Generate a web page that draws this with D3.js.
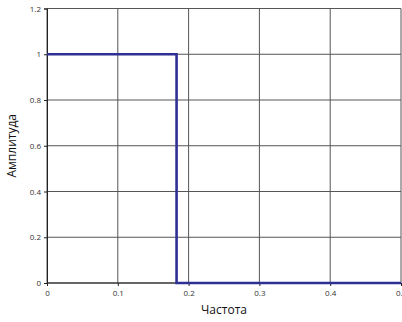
<!DOCTYPE html>
<html><head><meta charset="utf-8">
<script src="https://cdn.jsdelivr.net/npm/d3@7"></script>
<style>body{margin:0;background:#fff}svg{display:block}</style>
</head><body>
<script>
const xTicks = [0, 0.1, 0.2, 0.3, 0.4, 0.5];
const yTicks = [0, 0.2, 0.4, 0.6, 0.8, 1, 1.2];
const xTickLabels = ["0", "0.1", "0.2", "0.3", "0.4", "0.5"];
const yTickLabels = ["0", "0.2", "0.4", "0.6", "0.8", "1", "1.2"];
const freq = [0, 0.183, 0.183, 0.5];
const amp = [1, 1, 0, 0];
const xTitle = "Частота";
const yTitle = "Амплитуда";

const W = 402, H = 322;
const svg = d3.select("body").append("svg").attr("width", W).attr("height", H);
const x = d3.scaleLinear().domain([0, 0.5]).range([47, 401]);
const y = d3.scaleLinear().domain([0, 1.2]).range([283, 8.5]);

const g = svg.append("g");
// grid
g.selectAll(".vg").data(xTicks).join("line")
  .attr("x1", d => x(d)).attr("x2", d => x(d)).attr("y1", y(0)).attr("y2", y(1.2))
  .attr("stroke", "#555").attr("stroke-width", 1);
g.selectAll(".hg").data(yTicks).join("line")
  .attr("y1", d => y(d)).attr("y2", d => y(d)).attr("x1", x(0)).attr("x2", x(0.5))
  .attr("stroke", "#555").attr("stroke-width", 1);

// axes
const xa = svg.append("g").attr("transform", `translate(0,${y(0)})`)
  .call(d3.axisBottom(x).tickValues(xTicks).tickFormat((d,i) => xTickLabels[i]).tickSize(3).tickPadding(4));
const ya = svg.append("g").attr("transform", `translate(${x(0)},0)`)
  .call(d3.axisLeft(y).tickValues(yTicks).tickFormat((d,i) => yTickLabels[i]).tickSize(3).tickPadding(3));
[xa, ya].forEach(a => {
  a.select(".domain").attr("stroke", "#222");
  a.selectAll(".tick line").attr("stroke", "#222");
  a.selectAll("text").attr("fill", "#333").style("font-family", "Open Sans, sans-serif").style("font-size", "8px");
});
xa.select(".domain").remove();
svg.append("line").attr("x1", x(0)).attr("x2", x(0.5)).attr("y1", y(0)).attr("y2", y(0)).attr("stroke", "#222");

// step line
const line = d3.line().x(d => x(d[0])).y(d => y(d[1]));
svg.append("path").datum(freq.map((f, i) => [f, amp[i]]))
  .attr("d", line).attr("fill", "none").attr("stroke", "#2e3192").attr("stroke-width", 2.6);

// titles
svg.append("text").attr("x", x(0.25)).attr("y", 314).attr("text-anchor", "middle")
  .style("font-family", "Open Sans, sans-serif").style("font-size", "12px").attr("fill", "#111").text(xTitle);
svg.append("text").attr("transform", `translate(16,${(y(0)+y(1.2))/2}) rotate(-90)`).attr("text-anchor", "middle")
  .style("font-family", "Open Sans, sans-serif").style("font-size", "12px").attr("fill", "#111").text(yTitle);
</script>
</body></html>
